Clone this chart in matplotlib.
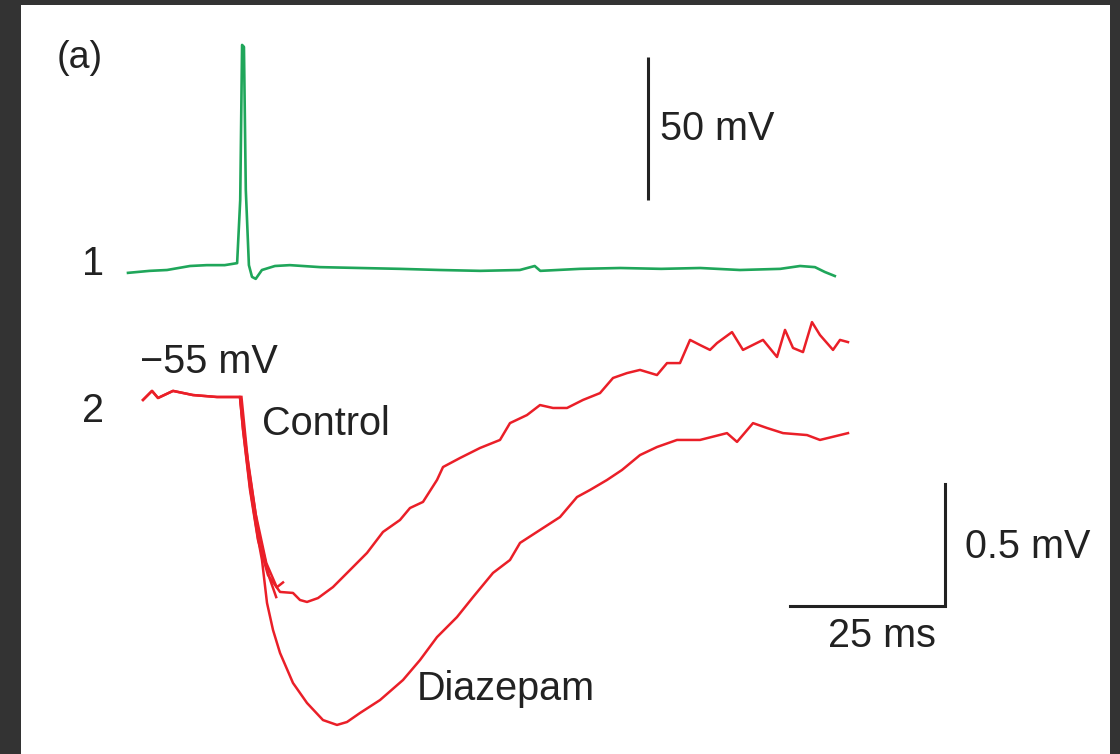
import matplotlib
matplotlib.use("Agg")
import matplotlib.pyplot as plt
from matplotlib.patches import Rectangle

plt.rcParams['font.family'] = ['Liberation Sans', 'DejaVu Sans']

# Trace 1: action potential (time in ms, voltage in mV relative to rest)
t_spike = [0, 3.5, 6.3, 10.0, 12.7, 15.6, 17.6, 18.1, 18.4, 18.7, 19.0, 19.5,
           20.0, 20.6, 21.6, 23.7, 26.1, 31.0, 37.4, 43.9, 50.3, 56.8, 63.2,
           65.6, 66.5, 72.9, 79.4, 86.0, 92.3, 98.7, 105.2, 108.4, 110.8,
           112.4, 114.0]
v_spike = [-1.7, -1.0, -0.7, 0.7, 1.0, 1.0, 1.7, 23.8, 78.0, 77.3, 27.3, 1.0,
           -3.1, -3.8, -0.7, 0.7, 1.0, 0.3, 0.0, -0.3, -0.7, -1.0, -0.7,
           0.7, -1.0, -0.3, 0.0, -0.3, 0.0, -0.7, -0.3, 0.7, 0.3,
           -1.4, -2.8]

# Trace 2: IPSPs from -55 mV (deflection in mV)
t_control = [2.42, 3.87, 4.84, 7.26, 10.48, 14.35, 18.06, 18.55, 19.68, 20.97,
             22.58, 24.52, 26.61, 27.74, 28.87, 30.65, 33.06, 35.81, 38.55,
             41.13, 43.87, 45.48, 47.58, 49.84, 50.81, 53.55, 56.77, 60.00,
             61.61, 64.35, 66.45, 68.55, 70.81, 73.39, 76.13, 78.23, 80.48,
             82.58, 85.32, 86.94, 89.03, 90.65, 92.26, 93.87, 95.00, 97.42,
             99.19, 102.42, 104.68, 105.97, 107.26, 108.87, 110.32, 111.61,
             113.71, 114.84, 116.13]
v_control = [-0.012, 0.025, -0.004, 0.025, 0.008, 0.0, 0.0, -0.135, -0.381,
             -0.586, -0.730, -0.799, -0.803, -0.832, -0.840, -0.824, -0.779,
             -0.709, -0.639, -0.553, -0.504, -0.455, -0.430, -0.340, -0.287,
             -0.250, -0.209, -0.176, -0.107, -0.074, -0.033, -0.045, -0.045,
             -0.012, 0.016, 0.078, 0.098, 0.111, 0.090, 0.139, 0.139, 0.234,
             0.213, 0.193, 0.221, 0.266, 0.193, 0.234, 0.164, 0.275, 0.201,
             0.184, 0.307, 0.254, 0.193, 0.234, 0.225]

t_diazepam = [2.42, 3.87, 4.84, 7.26, 10.48, 14.35, 18.06, 18.55, 19.68, 20.97,
              21.61, 22.42, 23.39, 24.52, 26.61, 28.87, 31.45, 33.71, 35.32,
              37.42, 40.65, 44.35, 47.10, 49.84, 53.06, 55.65, 58.87, 61.61,
              63.23, 66.45, 69.68, 72.42, 74.52, 77.26, 79.68, 82.58, 85.32,
              88.55, 92.26, 96.61, 98.23, 100.81, 103.06, 105.65, 109.52,
              111.61, 116.13]
v_diazepam = [-0.012, 0.025, -0.004, 0.025, 0.008, 0.0, 0.0, -0.130, -0.370,
              -0.580, -0.668, -0.844, -0.955, -1.049, -1.172, -1.254, -1.324,
              -1.344, -1.332, -1.295, -1.242, -1.160, -1.078, -0.984, -0.902,
              -0.820, -0.721, -0.668, -0.598, -0.545, -0.492, -0.410, -0.381,
              -0.340, -0.299, -0.238, -0.205, -0.176, -0.176, -0.148, -0.184,
              -0.107, -0.127, -0.148, -0.156, -0.176, -0.148]

# extra superimposed sweeps in the stimulus artifact
t_sweep_a = [18.1, 19.0, 20.6, 22.3, 24.0, 25.0]
v_sweep_a = [0.0, -0.20, -0.48, -0.68, -0.78, -0.76]
t_sweep_b = [18.3, 19.4, 21.0, 22.8, 23.9]
v_sweep_b = [0.0, -0.28, -0.55, -0.74, -0.82]

GREEN = '#1fa65a'
RED = '#ea1f28'
INK = '#222222'

fig = plt.figure(figsize=(11.2, 7.54), dpi=100, facecolor='#333333')
fig.patches.append(Rectangle((21 / 1120, 0), (1110 - 21) / 1120, (754 - 5) / 754,
                             transform=fig.transFigure, facecolor='white',
                             edgecolor='none', zorder=-10))

xlim = (-128 / 6.2, (1120 - 128) / 6.2)

# top axes: spike trace
ax1 = fig.add_axes([0, 0, 1, 1])
ax1.set_xlim(*xlim)
ax1.set_ylim((268 - 754) / 2.86, 268 / 2.86)
ax1.axis('off')
ax1.patch.set_alpha(0)
ax1.plot(t_spike, v_spike, color=GREEN, lw=1.9, solid_joinstyle='round')
ax1.plot([83.9, 83.9], [23.8, 73.8], color=INK, lw=2.2, solid_capstyle='butt')

# bottom axes: IPSP traces
ax2 = fig.add_axes([0, 0, 1, 1])
ax2.set_xlim(*xlim)
ax2.set_ylim((397 - 754) / 244, 397 / 244)
ax2.axis('off')
ax2.patch.set_alpha(0)
ax2.plot(t_diazepam, v_diazepam, color=RED, lw=1.8, solid_joinstyle='round')
ax2.plot(t_control, v_control, color=RED, lw=1.8, solid_joinstyle='round')
ax2.plot(t_sweep_a, v_sweep_a, color=RED, lw=1.8)
ax2.plot(t_sweep_b, v_sweep_b, color=RED, lw=1.8)

# scale bars 25 ms / 0.5 mV
ax2.plot([106.8, 131.8, 131.8], [-0.857, -0.857, -0.357], color=INK, lw=2.2,
         solid_joinstyle='miter')

txt = dict(fontsize=28.5, color=INK, va='baseline', ha='left')
fig.text(57 / 1120, 1 - 68 / 754, '(a)', **dict(txt, fontsize=27))
fig.text(82 / 1120, 1 - 275 / 754, '1', **txt)
fig.text(82 / 1120, 1 - 422 / 754, '2', **txt)
fig.text(140 / 1120, 1 - 373 / 754, '\u221255 mV', **txt)
fig.text(262 / 1120, 1 - 435 / 754, 'Control', **txt)
fig.text(417 / 1120, 1 - 700 / 754, 'Diazepam', **txt)
fig.text(965 / 1120, 1 - 558 / 754, '0.5 mV', **txt)
fig.text(828 / 1120, 1 - 647 / 754, '25 ms', **txt)
fig.text(660 / 1120, 1 - 140 / 754, '50 mV', **txt)

fig.savefig('out.png', dpi=100, facecolor=fig.get_facecolor())
